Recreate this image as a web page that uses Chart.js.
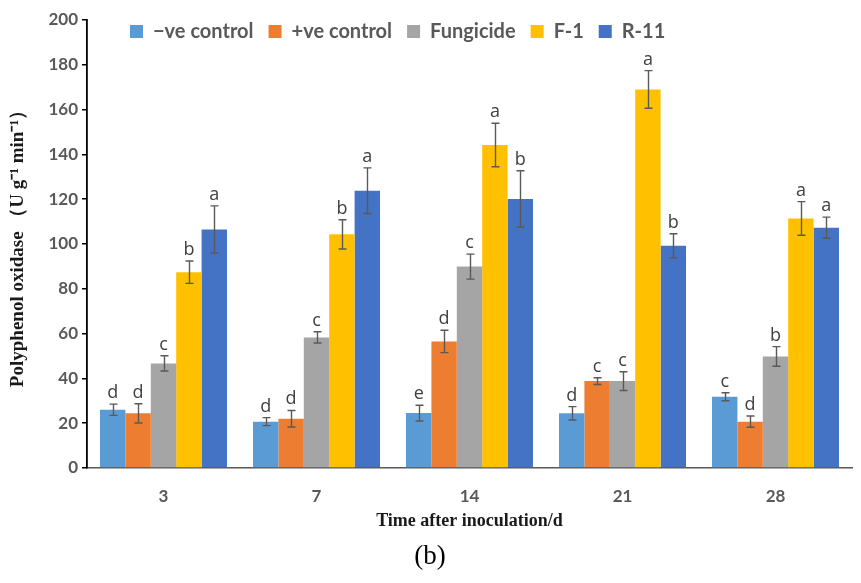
<!DOCTYPE html>
<html>
<head>
<meta charset="utf-8">
<script src="https://cdn.jsdelivr.net/npm/chart.js@4"></script>
<style>
  html, body { margin: 0; padding: 0; background: #fff; }
  #wrap { width: 861px; height: 583px; position: relative; }
</style>
</head>
<body>
<div id="wrap"><canvas id="ppoChart"></canvas></div>
<script>
var days = ['3', '7', '14', '21', '28'];
var seriesNames = ['\u2212ve control', '+ve control', 'Fungicide', 'F-1', 'R-11'];
var seriesColors = ['#5B9BD5', '#ED7D31', '#A5A5A5', '#FFC000', '#4472C4'];

var negControl = [26, 20.7, 24.5, 24.4, 31.8];
var posControl = [24.4, 22, 56.5, 38.8, 20.7];
var fungicide = [46.7, 58.3, 89.9, 38.8, 49.8];
var f1 = [87.4, 104.3, 144.2, 169, 111.4];
var r11 = [106.5, 123.8, 120.1, 99.2, 107.3];

var negErr = [2.5, 1.8, 3.5, 3, 1.8];
var posErr = [4.3, 3.7, 5, 1.5, 2.5];
var fungErr = [3.4, 2.5, 5.6, 4.2, 4.4];
var f1Err = [5, 6.5, 9.7, 8.4, 7.5];
var r11Err = [10.5, 10.2, 12.6, 5.4, 4.7];

var negLetters = ['d', 'd', 'e', 'd', 'c'];
var posLetters = ['d', 'd', 'd', 'c', 'd'];
var fungLetters = ['c', 'c', 'c', 'c', 'b'];
var f1Letters = ['b', 'b', 'a', 'a', 'a'];
var r11Letters = ['a', 'a', 'b', 'b', 'a'];

var yTicks = [0, 20, 40, 60, 80, 100, 120, 140, 160, 180, 200];

var values = [negControl, posControl, fungicide, f1, r11];
var errors = [negErr, posErr, fungErr, f1Err, r11Err];
var letters = [negLetters, posLetters, fungLetters, f1Letters, r11Letters];

var datasets = seriesNames.map(function(name, i) {
    return {
        label: name,
        data: values[i],
        backgroundColor: seriesColors[i],
        borderWidth: 0,
        categoryPercentage: 0.83,
        barPercentage: 1.0
    };
});

/* error bars, significance letters, legend and panel label */
var extrasPlugin = {
    id: 'extras',
    afterDatasetsDraw: function(chart) {
        var c = chart.ctx;
        var y = chart.scales.y;
        c.save();
        chart.data.datasets.forEach(function(ds, i) {
            var meta = chart.getDatasetMeta(i);
            meta.data.forEach(function(bar, j) {
                var v = ds.data[j];
                var e = errors[i][j];
                var yTop = y.getPixelForValue(v + e);
                var yBot = y.getPixelForValue(v - e);
                var x = Math.round(bar.x) + 0.5;
                c.strokeStyle = '#595959';
                c.lineWidth = 1.4;
                c.beginPath();
                c.moveTo(x, yTop); c.lineTo(x, yBot);
                c.moveTo(x - 4, yTop); c.lineTo(x + 4, yTop);
                c.moveTo(x - 4, yBot); c.lineTo(x + 4, yBot);
                c.stroke();
                c.fillStyle = '#404040';
                c.font = '18px "Open Sans", sans-serif';
                c.textAlign = 'center';
                c.textBaseline = 'alphabetic';
                c.fillText(letters[i][j], bar.x, yTop - 6);
            });
        });

        // legend
        c.font = 'bold 20px Lato, sans-serif';
        c.textBaseline = 'middle';
        c.textAlign = 'left';
        var lx = 130, ly = 31;
        seriesNames.forEach(function(name, i) {
            c.fillStyle = seriesColors[i];
            c.fillRect(lx, ly - 6, 13, 13);
            c.fillStyle = '#595959';
            c.fillText(name, lx + 23, ly + 1);
            lx += 23 + c.measureText(name).width + 15;
        });

        // panel label
        c.fillStyle = '#000';
        c.font = '27px "Liberation Serif", serif';
        c.textAlign = 'center';
        c.fillText('(b)', 430, 557);
        c.restore();
    }
};

new Chart(document.getElementById('ppoChart').getContext('2d'), {
    type: 'bar',
    data: { labels: days, datasets: datasets },
    options: {
        responsive: true,
        maintainAspectRatio: false,
        animation: false,
        layout: { padding: { top: 20, right: 9, bottom: 0, left: 0 } },
        plugins: {
            legend: { display: false },
            tooltip: { enabled: false }
        },
        scales: {
            x: {
                grid: { display: false, drawTicks: false },
                border: { color: '#595959', width: 1.5 },
                ticks: {
                    color: '#595959',
                    font: { family: 'Lato', size: 17, weight: 'bold' },
                    padding: 18
                },
                title: {
                    display: true,
                    text: 'Time after inoculation/d',
                    color: '#1a1a1a',
                    font: { family: 'Liberation Serif', size: 18, weight: 'bold' },
                    padding: { top: 0, bottom: 51 }
                },
                afterFit: function(scale) { scale.height = 115; }
            },
            y: {
                min: 0,
                max: 200,
                afterBuildTicks: function(scale) {
                    scale.ticks = yTicks.map(function(v) { return { value: v }; });
                },
                grid: { drawOnChartArea: false, drawTicks: true, tickLength: 5, color: '#000', lineWidth: 1.5 },
                border: { color: '#000', width: 1.8 },
                ticks: {
                    color: '#595959',
                    font: { family: 'Lato', size: 17, weight: 'bold' },
                    padding: 4
                },
                title: {
                    display: true,
                    text: 'Polyphenol oxidase \uFF08U g\u207B\u00B9 min\u207B\u00B9\uFF09',
                    color: '#1a1a1a',
                    font: { family: 'Liberation Serif', size: 19, weight: 'bold' },
                    padding: { top: 7, bottom: 0 }
                },
                afterFit: function(scale) { scale.width = 87; }
            }
        }
    },
    plugins: [extrasPlugin]
});
</script>
</body>
</html>
